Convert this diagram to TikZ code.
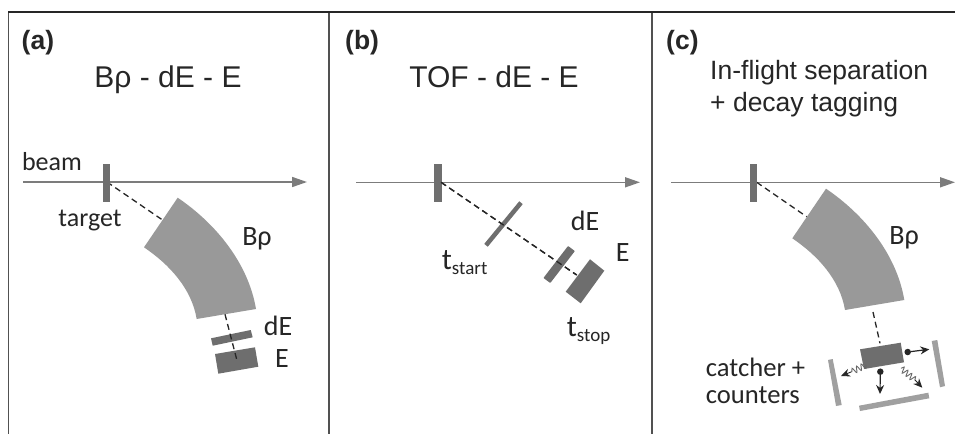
\documentclass[tikz,border=0pt]{standalone}
\usepackage{fontspec}
\setmainfont{Liberation Sans}
\newfontfamily\calib{Carlito}
\usetikzlibrary{arrows.meta,decorations.pathmorphing}
\definecolor{beamgray}{HTML}{7C7C7C}
\definecolor{targetgray}{HTML}{6F6F6F}
\definecolor{magnetgray}{HTML}{999999}
\definecolor{detgray}{HTML}{6E6E6E}
\definecolor{countergray}{HTML}{A0A0A0}
\definecolor{inkgray}{HTML}{262626}
\newcommand{\tsub}[1]{\fontsize{30}{32}\selectfont t\raisebox{-5pt}{\fontsize{19}{20}\selectfont #1}}
\tikzset{
  x=1pt,y=-1pt,
  frameline/.style={line width=1.5pt,draw=inkgray},
  divline/.style={line width=1.5pt,draw=inkgray!80},
  beamline/.style={line width=1.6pt,draw=beamgray,-{Triangle[length=15pt,width=10pt,fill=beamgray]}},
  dashline/.style={line width=1.3pt,draw=inkgray,dash pattern=on 6pt off 4pt},
  panellab/.style={font=\fontsize{26.5}{30}\selectfont\bfseries,text=inkgray,inner sep=0pt,anchor=base west},
  titletext/.style={font=\fontsize{30}{34}\selectfont,text=inkgray,inner sep=0pt,anchor=base},
  subtitle/.style={font=\fontsize{26.5}{32}\selectfont,text=inkgray,inner sep=0pt,anchor=base west},
  lab/.style={font=\calib\fontsize{28}{30}\selectfont,text=inkgray,inner sep=0pt,anchor=base},
  smalllab/.style={font=\calib\fontsize{26}{28}\selectfont,text=inkgray,inner sep=0pt,anchor=base},
  catlab/.style={font=\calib\fontsize{26.6}{28}\selectfont,text=inkgray,inner sep=0pt,anchor=base west},
  tlab/.style={font=\calib,text=inkgray,inner sep=0pt,anchor=base west},
  magnetfill/.style={fill=magnetgray},
  detfill/.style={fill=detgray},
  counterfill/.style={fill=countergray},
  shoot/.style={line width=1.2pt,draw=inkgray,-{Stealth[length=9pt,width=8pt]}},
  wiggle/.style={line width=.9pt,draw=inkgray!70,decorate,decoration={snake,segment length=5pt,amplitude=3pt}},
  dot/.style={circle,fill=inkgray,inner sep=0pt,minimum size=6.5pt},
  pics/magnet/.style={code={
    \fill[magnetfill] (177.7,197.7) .. controls (216,223.7) and (248.3,263.3) .. (256,309)
      -- (196.7,319) .. controls (191.6,288.6) and (169.5,264.6) .. (144,247.3) -- cycle;
  }}
}
\begin{document}
\begin{tikzpicture}
\useasboundingbox (0,0) rectangle (955,434);
\fill[white] (0,0) rectangle (955,434);
% frame
\coordinate (tl) at (8.3,12); \coordinate (tr) at (955,12);
\coordinate (bl) at (8.3,434);
\coordinate (d1t) at (329,12); \coordinate (d1b) at (329,434);
\coordinate (d2t) at (652,12); \coordinate (d2b) at (652,434);
\draw[divline] (tl) -- (bl);
\draw[divline] (d1t) -- (d1b);
\draw[divline] (d2t) -- (d2b);
\draw[frameline,line cap=rect] (tl) -- (tr);
% panel labels and titles
\node[panellab] (la) at (21.5,49) {(a)};
\node[panellab] (lb) at (345,49) {(b)};
\node[panellab] (lc) at (666,49) {(c)};
\node[titletext] (ta) at (168,87) {Bρ - dE - E};
\node[titletext] (tb) at (494,87) {TOF - dE - E};
\node[subtitle] (tc1) at (710,79.3) {In-flight separation};
\node[subtitle] (tc2) at (710,111) {+ decay tagging};
% panel a
\coordinate (a0) at (23,182); \coordinate (a1) at (307,182);
\draw[beamline] (a0) -- (a1);
\coordinate (ah) at (107,182); \coordinate (am) at (164,221);
\draw[dashline] (ah) -- (am);
\fill[targetgray] (102.7,164.3) rectangle (110,202);
\pic at (0,0) {magnet};
\fill[detfill] (211,338.3) -- (250.7,330) -- (252.7,337.3) -- (212.7,345.7) -- cycle;
\fill[detfill] (215,354) -- (255,347.3) -- (258.3,366.7) -- (218.3,373.7) -- cycle;
\coordinate (as) at (225,314.3); \coordinate (ae) at (237.3,361.7);
\draw[dashline] (as) -- (ae);
\node[smalllab] (nbeam) at (52,170.7) {beam};
\node[smalllab] (ntarget) at (90,226.7) {target};
\node[lab] (nbr) at (257,245) {Bρ};
\node[lab] (nde) at (278,335) {dE};
\node[lab] (ne) at (282,367) {E};
% panel b
\coordinate (b0) at (356,182.3); \coordinate (b1) at (640,182.3);
\draw[beamline] (b0) -- (b1);
\coordinate (bh) at (441,182.3); \coordinate (be) at (576.7,275);
\draw[dashline] (bh) -- (be);
\fill[targetgray] (434.3,164.3) rectangle (441.7,202.3);
\draw[line width=4.5pt,draw=detgray] (521,202.7) -- (486,245.3);
\fill[detfill,draw=detgray,line width=1.5pt,line join=round] (573.8,251.2) -- (568.2,247) -- (544.5,277.8) -- (550.1,282) -- cycle;
\fill[detfill] (590,259.3) -- (604.3,270.7) -- (580.7,303.3) -- (565.7,291.7) -- cycle;
\draw[dashline] (bh) -- (be);
\node[lab] (bde) at (585,230) {dE};
\node[lab] (bE) at (622.7,261.7) {E};
\node[tlab] (bts) at (441.7,269) {\tsub{start}};
\node[tlab] (btp) at (566.7,336) {\tsub{stop}};
% panel c
\coordinate (c0) at (671,182.3); \coordinate (c1) at (955,182.3);
\draw[beamline] (c0) -- (c1);
\coordinate (ch) at (756.7,182.3); \coordinate (cm) at (806.7,216.7);
\draw[dashline] (ch) -- (cm);
\fill[targetgray] (750,164.3) rectangle (757.3,202.3);
\pic at (648.3,-9) {magnet};
\coordinate (cs) at (873,312); \coordinate (ce) at (880,343.3);
\draw[dashline] (cs) -- (ce);
\fill[detfill] (860,349.3) -- (900.7,342.7) -- (904,362.3) -- (864,369) -- cycle;
\fill[counterfill] (931.7,341) -- (937.3,340) -- (945,386) -- (940,387.3) -- cycle;
\fill[counterfill] (828,360) -- (832.7,359) -- (841.7,405) -- (836,406) -- cycle;
\fill[counterfill] (859,405.7) -- (928.3,392.7) -- (929.3,398.3) -- (860,411) -- cycle;
\node[dot] (d1) at (907.7,352) {};
\node[dot] (d2) at (880.3,371.7) {};
\coordinate (d1e) at (929.3,349.3); \coordinate (d2e) at (880,394);
\draw[shoot] (d1) -- (d1e);
\draw[shoot] (d2) -- (d2e);
\coordinate (w1s) at (866,365); \coordinate (w1m) at (851,372); \coordinate (w1e) at (841,376);
\draw[wiggle] (w1s) -- (w1m);
\draw[shoot,line width=.9pt] (w1m) -- (w1e);
\coordinate (w2s) at (901,368.3); \coordinate (w2m) at (915,380); \coordinate (w2e) at (922.3,387.7);
\draw[wiggle] (w2s) -- (w2m);
\draw[shoot,line width=.9pt] (w2m) -- (w2e);
\node[lab] (cbr) at (904,244.3) {Bρ};
\node[catlab] (ccat1) at (705.7,376) {catcher +};
\node[catlab] (ccat2) at (705.7,403.3) {counters};
\end{tikzpicture}
\end{document}
